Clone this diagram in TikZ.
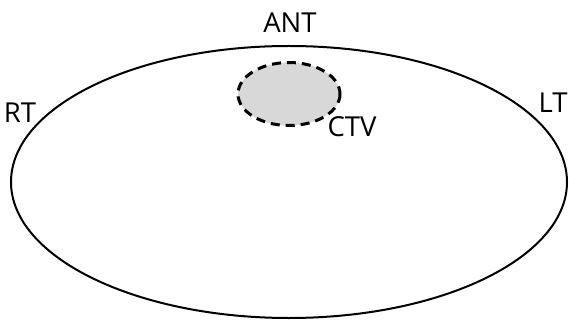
\documentclass[tikz,border=0pt]{standalone}
\usepackage{fontspec}
\setmainfont{Open Sans}
\begin{document}
\begin{tikzpicture}[x=1pt,y=-1pt,
  lbl/.style={font=\fontsize{27.5}{27.5}\selectfont, inner sep=0pt, anchor=center}]
\useasboundingbox (0,0) rectangle (569,320);
\draw[line width=2pt] (289,182) ellipse [x radius=278, y radius=136];
\draw[fill={rgb,255:red,216;green,216;blue,216}, line width=3pt, dash pattern=on 9pt off 6pt] (289,94) ellipse [x radius=51, y radius=31.5];
\node[lbl] (ant) at (290,23) {ANT};
\node[lbl] (rt) at (20,113) {RT};
\node[lbl] (lt) at (553,103) {LT};
\node[lbl] (ctv) at (352,127) {CTV};
\end{tikzpicture}
\end{document}
